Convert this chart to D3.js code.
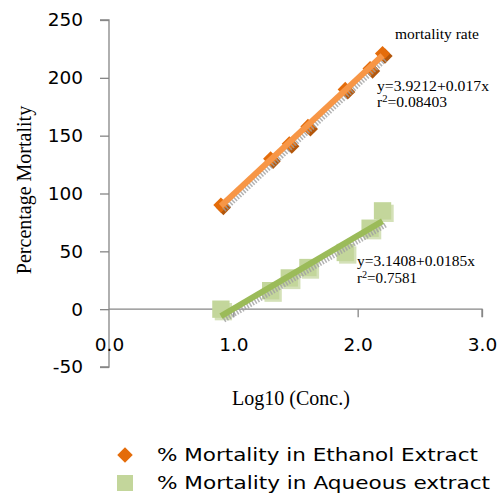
<!DOCTYPE html>
<html><head><meta charset="utf-8">
<script src="https://cdn.jsdelivr.net/npm/d3@7"></script>
<style>body{margin:0;background:#fff}svg{display:block}</style>
</head><body>
<script>
const logConc = [0.90, 1.30, 1.45, 1.60, 1.90, 2.10, 2.20];
const ethanol = [90, 130, 143, 158, 190, 208, 221];
const aqueous = [0, 16, 27, 36, 49, 70, 85];
const xTicks = [0, 1, 2, 3];
const yTicks = [-50, 0, 50, 100, 150, 200, 250];
const seriesNames = ["% Mortality in Ethanol Extract", "% Mortality in Aqueous extract"];
const eqEthanol = ["y=3.9212+0.017x", "r²=0.08403"];
const eqAqueous = ["y=3.1408+0.0185x", "r²=0.7581"];
const annotation = "mortality rate";

const W = 504, H = 495;
const svg = d3.select("body").append("svg").attr("width", W).attr("height", H);
const x = d3.scaleLinear().domain([0, 3]).range([109, 482]);
const y = d3.scaleLinear().domain([-50, 250]).range([367, 20]);
const axisColor = "#868686";
const sans = "'DejaVu Sans', 'Open Sans', sans-serif";
const serif = "'Liberation Serif', 'DejaVu Serif', serif";
const diamondPath = s => d3.symbol(d3.symbolSquare, s)();

// Y axis
const ya = svg.append("g").attr("transform", `translate(${x(0)},0)`)
  .call(d3.axisLeft(y).tickValues(yTicks).tickSize(9).tickPadding(17).tickFormat(d => String(d)));
ya.select(".domain").attr("stroke", axisColor).attr("stroke-width", 1.3).attr("d", `M-9,${y(250)}H0V${y(-50)}H-9`);
ya.selectAll(".tick line").attr("stroke", axisColor).attr("stroke-width", 1.3);
ya.selectAll(".tick text").attr("font-family", sans).attr("font-size", 18.5).attr("fill", "#000");

// X axis at y=0
const xa = svg.append("g").attr("transform", `translate(0,${y(0)})`)
  .call(d3.axisBottom(x).tickValues(xTicks).tickSize(8).tickFormat(d => d.toFixed(1)));
xa.select(".domain").attr("stroke", axisColor).attr("stroke-width", 1.3).attr("d", `M${x(0)},0H${x(3)}V8`);
xa.selectAll(".tick line").attr("stroke", axisColor).attr("stroke-width", 1.3)
  .attr("display", d => d === 0 ? "none" : null);
xa.selectAll(".tick text").attr("font-family", sans).attr("font-size", 18.5).attr("fill", "#000")
  .attr("y", 42).attr("dy", 0);

function fit(xs, ys) {
  const mx = d3.mean(xs), my = d3.mean(ys);
  let sxy = 0, sxx = 0;
  xs.forEach((v, i) => { sxy += (v - mx) * (ys[i] - my); sxx += (v - mx) ** 2; });
  const b = sxy / sxx; const a = my - b * mx;
  return v => a + b * v;
}

function drawSeries(vals, markerColor, shadowColor, lineColor, shape) {
  const g = svg.append("g");
  const pts = logConc.map((v, i) => [v, vals[i]]);
  const isD = shape === "diamond";
  const sym = isD ? diamondPath(115) : d3.symbol(d3.symbolSquare, 300)();
  const rot = isD ? " rotate(45)" : "";
  g.selectAll(".sh").data(pts).enter().append("path")
    .attr("d", sym)
    .attr("transform", d => `translate(${x(d[0]) + 2.5},${y(d[1]) + 2.5})${rot}`)
    .attr("fill", shadowColor);
  g.selectAll(".pt").data(pts).enter().append("path")
    .attr("d", sym)
    .attr("transform", d => `translate(${x(d[0])},${y(d[1])})${rot}`)
    .attr("fill", markerColor);
  const f = fit(logConc, vals);
  const x0 = d3.min(logConc), x1 = d3.max(logConc);
  g.append("line").attr("x1", x(x0) + 3).attr("y1", y(f(x0)) + 4).attr("x2", x(x1) + 3).attr("y2", y(f(x1)) + 4)
    .attr("stroke", "#a0a0a0").attr("stroke-width", 5).attr("stroke-dasharray", "1.5,1.5").attr("opacity", 0.8);
  g.append("line").attr("x1", x(x0)).attr("y1", y(f(x0))).attr("x2", x(x1)).attr("y2", y(f(x1)))
    .attr("stroke", lineColor).attr("stroke-width", 6);
}
drawSeries(ethanol, "#E46C0A", "#b3560a", "#F79646", "diamond");
drawSeries(aqueous, "#C3D69B", "#d4e1b8", "#9BBB59", "square");

// annotations
svg.append("text").attr("x", 395).attr("y", 39).attr("font-family", serif).attr("font-size", 15.5).text(annotation);
function eq(lines, px, py, gap, widths) {
  lines.forEach((l, i) => {
    const t = svg.append("text").attr("font-family", serif).attr("font-size", 14)
      .attr("x", px).attr("y", py + i * gap)
      .attr("textLength", widths[i]).attr("lengthAdjust", "spacingAndGlyphs");
    if (l.startsWith("r²")) {
      t.append("tspan").text("r");
      t.append("tspan").attr("font-size", 9.5).attr("dy", -5).text("2");
      t.append("tspan").attr("dy", 5).text(l.slice(2));
    } else t.text(l);
  });
}
eq(eqEthanol, 377, 91, 16, [112, 70]);
eq(eqAqueous, 357, 266, 17, [118, 60]);

// axis titles
svg.append("text").attr("transform", `translate(31,190) rotate(-90)`).attr("text-anchor", "middle")
  .attr("font-family", serif).attr("font-size", 20).text("Percentage Mortality");
svg.append("text").attr("x", 291).attr("y", 405).attr("text-anchor", "middle")
  .attr("font-family", serif).attr("font-size", 20).text("Log10 (Conc.)");

// legend
const lg = svg.append("g");
lg.append("path").attr("d", diamondPath(120)).attr("transform", "translate(125,455) rotate(45)").attr("fill", "#E46C0A");
lg.append("rect").attr("x", 117).attr("y", 475).attr("width", 16).attr("height", 16).attr("fill", "#C3D69B");
const legW = [321, 333];
lg.selectAll(".lt").data(seriesNames).enter().append("text")
  .attr("x", 157).attr("y", (d, i) => 461 + i * 27.5).attr("font-family", sans).attr("font-size", 18.5)
  .attr("textLength", (d, i) => legW[i]).attr("lengthAdjust", "spacingAndGlyphs").text(d => d);
</script>
</body></html>
